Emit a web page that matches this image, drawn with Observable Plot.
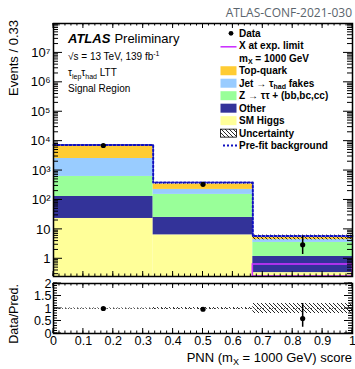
<!DOCTYPE html>
<html><head><meta charset="utf-8">
<script src="https://cdn.jsdelivr.net/npm/d3@7"></script>
<script src="https://cdn.jsdelivr.net/npm/@observablehq/plot@0.6"></script>
<style>
body{margin:0;background:#fff}
#chart{position:relative;width:355px;height:369px;font-family:"Liberation Sans",Arial,Helvetica,sans-serif;background:#fff;overflow:hidden}
#main,#ratio{position:absolute;left:0}
#main{top:0}
#ratio{top:270px}
#ann{position:absolute;left:0;top:0;pointer-events:none}
</style></head><body>
<svg width="0" height="0" style="position:absolute"><defs>
<pattern id="hatch" patternUnits="userSpaceOnUse" width="4" height="4"><path d="M-1,-1 L5,5 M-1,3 L1,5 M3,-1 L5,1" stroke="#111" stroke-width="0.9"/></pattern>
</defs></svg>
<div id="chart"><div id="main"></div><div id="ratio"></div><svg id="ann" width="355" height="369"></svg></div>
<script>
// ---- data ----
const binEdges = [0, 1/3, 2/3, 1];
const smHiggs  = [23.5, 6.5, 0.34];
const other    = [108, 19, 0.86];
const zTauTau  = [500, 129, 2.4];
const jetFakes = [1940, 74, 0.9];
const topQuark = [4630, 117, 0.8];
const dataVals    = [7100, 340, 3];
const dataErrLow  = [7016, 322, 1.4];
const dataErrHigh = [7184, 358, 5.9];
const preFit  = [7400, 390, 5.9];
const uncLow  = [7050, 336, 4.4];
const uncHigh = [7350, 356, 6.4];
const signalX = [0, 0, 0.64];
const ratioVals    = [1.0, 0.97, 0.6];
const ratioErrLow  = [0.99, 0.92, 0.25];
const ratioErrHigh = [1.01, 1.02, 1.2];
const ratioUncLow  = [0.98, 0.96, 0.8];
const ratioUncHigh = [1.02, 1.04, 1.2];
const yTicksMain = [1, 10, 100, 1e3, 1e4, 1e5, 1e6, 1e7];
const yTickLabelsMain = ["1", "10", "10²", "10³", "10⁴", "10⁵", "10⁶", "10⁷"];
const yTicksRatio = [0, 0.5, 1, 1.5, 2];
const yTickLabelsRatio = ["0", "0.5", "1", "1.5", "2"];
const xTicks = [0, 0.1, 0.2, 0.3, 0.4, 0.5, 0.6, 0.7, 0.8, 0.9, 1];
const xTickLabels = ["0", "0.1", "0.2", "0.3", "0.4", "0.5", "0.6", "0.7", "0.8", "0.9", "1"];
const processNames = ["SM Higgs", "Other", "Z → ττ + (bb,bc,cc)", "Jet → τhad fakes", "Top-quark"];
const processColors = ["#ffff99", "#333399", "#99ff99", "#99ccff", "#ffcc33"];
const mainDomain = [0.25, 1e8];
const ratioDomain = [0, 2];

const FONT = '"Liberation Sans", Arial, Helvetica, sans-serif';
const processVals = [smHiggs, other, zTauTau, jetFakes, topQuark];

// stacked rects
const stackRects = [];
for (let i = 0; i < 3; i++) {
  let cum = 0;
  processVals.forEach((vals, k) => {
    const lo = cum; cum += vals[i];
    stackRects.push({x1: binEdges[i], x2: binEdges[i+1], y1: lo === 0 ? mainDomain[0] : lo, y2: cum, fill: processColors[k]});
  });
}
const bins = [0,1,2].map(i => ({
  x1: binEdges[i], x2: binEdges[i+1], xc: (binEdges[i]+binEdges[i+1])/2,
  data: dataVals[i], lo: dataErrLow[i], hi: dataErrHigh[i],
  uLo: uncLow[i], uHi: uncHigh[i], sig: signalX[i],
  r: ratioVals[i], rLo: ratioErrLow[i], rHi: ratioErrHigh[i],
  ruLo: ratioUncLow[i], ruHi: ratioUncHigh[i]
}));
const preFitPts = binEdges.map((e, i) => ({x: e, y: preFit[Math.min(i, 2)]}));

const main = Plot.plot({
  width: 355, height: 279, marginLeft: 53, marginRight: 3, marginTop: 23, marginBottom: 3,
  style: {fontFamily: FONT, fontSize: "13px", background: "transparent", overflow: "visible"},
  color: {type: "identity"},
  x: {domain: [0, 1], axis: null},
  y: {type: "log", domain: mainDomain, ticks: yTicksMain, tickFormat: d => yTickLabelsMain[yTicksMain.indexOf(d)], tickSize: 0, tickPadding: 3, label: null},
  marks: [
    Plot.rect(stackRects, {x1: "x1", x2: "x2", y1: "y1", y2: "y2", fill: "fill"}),
    Plot.rect(bins, {x1: "x1", x2: "x2", y1: "uLo", y2: "uHi", fill: "url(#hatch)"}),
    Plot.rect(bins.filter(d => d.sig > 0), {x1: "x1", x2: "x2", y1: () => mainDomain[0], y2: "sig", fill: "none", stroke: "#cc33ff", strokeWidth: 1.6}),
    Plot.line(preFitPts, {x: "x", y: "y", curve: "step-after", stroke: "#1010c0", strokeWidth: 2, strokeDasharray: "2,2"}),
    Plot.ruleX(bins, {x: "xc", y1: "lo", y2: "hi", stroke: "black", strokeWidth: 1.5}),
    Plot.dot(bins, {x: "xc", y: "data", r: 2.6, fill: "black"}),
    Plot.frame({stroke: "black", strokeWidth: 1.5})
  ]
});
document.getElementById("main").appendChild(main);

const ratioPlot = Plot.plot({
  width: 355, height: 99, marginLeft: 53, marginRight: 3, marginTop: 13, marginBottom: 36,
  style: {fontFamily: FONT, fontSize: "12.5px", background: "transparent", overflow: "visible"},
  x: {domain: [0, 1], ticks: xTicks, tickFormat: d => xTickLabels[xTicks.indexOf(d)], tickSize: 0, tickPadding: 3, label: null},
  y: {domain: ratioDomain, ticks: yTicksRatio, tickFormat: d => yTickLabelsRatio[yTicksRatio.indexOf(d)], tickSize: 0, tickPadding: 2, label: null},
  marks: [
    Plot.rect(bins, {x1: "x1", x2: "x2", y1: "ruLo", y2: "ruHi", fill: "url(#hatch)"}),
    Plot.ruleY([1], {stroke: "#555", strokeWidth: 1, strokeDasharray: "1,2"}),
    Plot.ruleX(bins, {x: "xc", y1: "rLo", y2: "rHi", stroke: "black", strokeWidth: 1.5}),
    Plot.dot(bins, {x: "xc", y: "r", r: 2.6, fill: "black"}),
    Plot.frame({stroke: "black", strokeWidth: 1.5})
  ]
});
document.getElementById("ratio").appendChild(ratioPlot);

// ---- ROOT style inward ticks, using Plot's scales ----
function fn(s) {
  if (s.apply) return v => s.apply(v);
  return (s.type === "log" ? d3.scaleLog() : d3.scaleLinear()).domain(s.domain).range(s.range);
}
function addTicks(svg, opts) {
  const sx = svg.scale("x"), sy = svg.scale("y");
  const X = fn(sx), Y = fn(sy);
  const [xl, xr] = sx.range; const [yb, yt] = sy.range;
  const g = d3.select(svg).append("g").attr("stroke", "black").attr("stroke-width", 1).attr("fill", "none");
  const path = d3.path();
  const addX = (vals, len) => vals.forEach(v => { const x = X(v); path.moveTo(x, yb); path.lineTo(x, yb - len); path.moveTo(x, yt); path.lineTo(x, yt + len); });
  const addY = (vals, len) => vals.forEach(v => { const y = Y(v); path.moveTo(xl, y); path.lineTo(xl + len, y); path.moveTo(xr, y); path.lineTo(xr - len, y); });
  addX(opts.xMinor, opts.xMinorLen); addX(opts.xMajor, opts.xMajorLen);
  addY(opts.yMinor, opts.yMinorLen); addY(opts.yMajor, opts.yMajorLen);
  g.append("path").attr("d", path.toString());
}
const xMinorVals = d3.range(0, 51).map(i => i / 50);
const yMinorMain = [];
for (let k = -1; k <= 7; k++) for (let m = 2; m <= 9; m++) { const v = m * Math.pow(10, k); if (v >= mainDomain[0] && v <= mainDomain[1]) yMinorMain.push(v); }
addTicks(main, {xMajor: xTicks, xMinor: xMinorVals, xMajorLen: 5, xMinorLen: 2.5, yMajor: yTicksMain, yMinor: yMinorMain, yMajorLen: 9, yMinorLen: 5});
addTicks(ratioPlot, {xMajor: xTicks, xMinor: xMinorVals, xMajorLen: 5, xMinorLen: 2.5, yMajor: yTicksRatio, yMinor: d3.range(0, 21).map(i => i / 10), yMajorLen: 8, yMinorLen: 4});

// ---- annotations & legend ----
const ann = d3.select("#ann");
ann.append("text").attr("x", 352).attr("y", 16.5).attr("text-anchor", "end")
  .attr("font-family", '"Open Sans", sans-serif').attr("font-size", 12).attr("fill", "#5a646c").text("ATLAS-CONF-2021-030");
const t1 = ann.append("text").attr("x", 68).attr("y", 42.5).attr("font-family", FONT).attr("font-size", 13);
t1.append("tspan").attr("font-weight", "bold").attr("font-style", "italic").text("ATLAS");
t1.append("tspan").attr("dx", 4).text("Preliminary");
ann.append("text").attr("x", 68).attr("y", 59.5).attr("font-family", FONT).attr("font-size", 10)
  .html('√s = 13 TeV, 139 fb<tspan font-size="7" dy="-4">-1</tspan>');
ann.append("text").attr("x", 68).attr("y", 76).attr("font-family", FONT).attr("font-size", 10)
  .html('τ<tspan font-size="7" dy="2.5">lep</tspan><tspan dy="-2.5">τ</tspan><tspan font-size="7" dy="2.5">had</tspan><tspan dy="-2.5"> LTT</tspan>');
ann.append("text").attr("x", 68).attr("y", 92).attr("font-family", FONT).attr("font-size", 10).text("Signal Region");

ann.append("text").attr("transform", "translate(18,20) rotate(-90)").attr("text-anchor", "end")
  .attr("font-family", FONT).attr("font-size", 13).text("Events / 0.33");
ann.append("text").attr("transform", "translate(18,284) rotate(-90)").attr("text-anchor", "end")
  .attr("font-family", FONT).attr("font-size", 12.5).text("Data/Pred.");
ann.append("text").attr("x", 352).attr("y", 361.5).attr("text-anchor", "end").attr("font-family", FONT).attr("font-size", 13)
  .html('PNN (m<tspan font-size="9" dy="3">X</tspan><tspan dy="-3"> = 1000 GeV) score</tspan>');

const legendRows = [
  {kind: "dot", html: "Data"},
  {kind: "line", html: "X at exp. limit", color: "#cc33ff"},
  {kind: "none", html: 'm<tspan font-size="7" dy="2.5">X</tspan><tspan dy="-2.5"> = 1000 GeV</tspan>'},
  {kind: "box", html: "Top-quark", color: processColors[4]},
  {kind: "box", html: 'Jet  →  τ<tspan font-size="7" dy="2.5">had</tspan><tspan dy="-2.5"> fakes</tspan>', color: processColors[3]},
  {kind: "box", html: "Z  →  ττ + (bb,bc,cc)", color: processColors[2]},
  {kind: "box", html: "Other", color: processColors[1]},
  {kind: "box", html: "SM Higgs", color: processColors[0]},
  {kind: "hatch", html: "Uncertainty"},
  {kind: "dotted", html: "Pre-fit background", color: "#1010c0"}
];
const lg = ann.append("g");
legendRows.forEach((row, i) => {
  const yc = 33.3 + i * 12.48;
  if (row.kind === "dot") lg.append("circle").attr("cx", 231).attr("cy", yc).attr("r", 2.4).attr("fill", "black");
  if (row.kind === "line") lg.append("line").attr("x1", 220.5).attr("x2", 236.5).attr("y1", yc + 1).attr("y2", yc + 1).attr("stroke", row.color).attr("stroke-width", 1.6);
  if (row.kind === "box") lg.append("rect").attr("x", 220.5).attr("y", yc - 4.5).attr("width", 16).attr("height", 9).attr("fill", row.color);
  if (row.kind === "hatch") lg.append("rect").attr("x", 220.5).attr("y", yc - 4).attr("width", 16).attr("height", 8).attr("fill", "url(#hatch)").attr("stroke", "black").attr("stroke-width", 0.8);
  if (row.kind === "dotted") lg.append("line").attr("x1", 223).attr("x2", 237).attr("y1", yc).attr("y2", yc).attr("stroke", row.color).attr("stroke-width", 2).attr("stroke-dasharray", "2,2");
  lg.append("text").attr("x", 239).attr("y", yc + 3.6).attr("font-family", FONT).attr("font-size", 10).attr("font-weight", "bold").html(row.html);
});
</script>
</body></html>
